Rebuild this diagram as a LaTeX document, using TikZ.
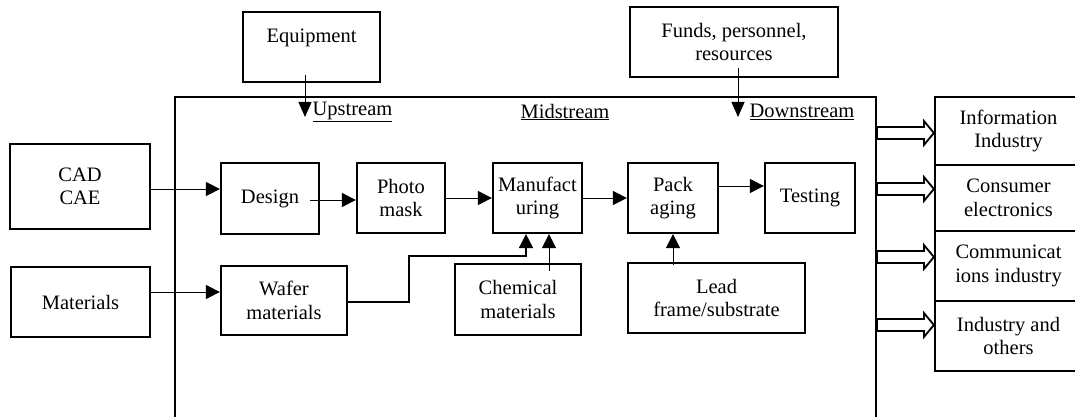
\documentclass[tikz,border=0pt]{standalone}
\usepackage{fontspec}
\setmainfont{Liberation Serif}
\usetikzlibrary{arrows.meta}
\begin{document}
\begin{tikzpicture}[x=1pt,y=-1pt,
  every node/.style={font=\fontsize{20.5}{23.5}\selectfont},
  box/.style={draw, line width=2.2pt, align=center, inner sep=0pt},
  lbl/.style={inner sep=0pt, align=center},
  arr/.style={line width=1pt, -{Triangle[length=14pt,width=14pt]}},
  hollow/.pic={\draw[line width=1.8pt, fill=white] (-57,-6)--(-10,-6)--(-10,-12)--(0,0)--(-10,12)--(-10,6)--(-57,6)--cycle;}
]
\useasboundingbox (0,0) rectangle (1075,417);

% top boxes
\node[box, minimum width=137pt, minimum height=70pt] (equip) at (311.5,47) {Equipment\\\mbox{}};
\node[box, minimum width=208pt, minimum height=70pt] (funds) at (734,42) {Funds, personnel,\\resources};

% frame
\draw[line width=2pt] (175,420) -- (175,97) -- (876,97) -- (876,420);
\node[lbl] (up) at (352.5,112) {\underline{Upstream}};
\node[lbl] (mid) at (565,112) {\underline{Midstream}};
\node[lbl] (down) at (802,112) {\underline{Downstream}};

% left boxes
\node[box, minimum width=140pt, minimum height=85pt] (cad) at (80,186.5) {CAD\\CAE};
\node[box, minimum width=139pt, minimum height=70pt] (mat) at (80.5,302) {Materials};

% process boxes
\node[box, minimum width=98pt, minimum height=71pt] (design) at (270,198.5) {Design};
\node[box, minimum width=88pt, minimum height=70pt] (photo) at (401,198) {Photo\\mask};
\node[box, minimum width=89pt, minimum height=70pt] (manuf) at (537.5,198) {Manufact\\uring};
\node[box, minimum width=90pt, minimum height=70pt] (pack) at (673,198) {Pack\\aging};
\node[box, minimum width=90pt, minimum height=70pt] (test) at (810,198) {Testing};
\node[box, minimum width=126pt, minimum height=69pt] (wafer) at (284,300.5) {Wafer\\materials};
\node[box, minimum width=126pt, minimum height=71pt] (chem) at (518,299.5) {Chemical\\materials};
\node[box, minimum width=177pt, minimum height=70pt] (lead) at (716.5,298) {Lead\\frame/substrate};

% right boxes
\node[box, minimum width=147pt, minimum height=68pt] (info) at (1008.5,131) {Information\\Industry};
\node[box, minimum width=147pt, minimum height=66pt] (cons) at (1008.5,198) {Consumer\\electronics};
\node[box, minimum width=147pt, minimum height=70pt] (comm) at (1008.5,266) {Communicat\\ions industry};
\node[box, minimum width=147pt, minimum height=70pt] (indu) at (1008.5,336) {Industry and\\others};

% hollow arrows
\pic at ([yshift=-2pt]info.west) {hollow};
\pic at ([yshift=9pt]cons.west) {hollow};
\pic at ([yshift=9pt]comm.west) {hollow};
\pic at ([yshift=11pt]indu.west) {hollow};

% vertical inputs
\coordinate (upin) at (305,117);
\coordinate (downin) at (738,117);
\draw[arr, -{Triangle[length=15pt,width=13pt]}] ([xshift=-6.5pt,yshift=-28pt]equip.center) -- (upin);
\draw[arr, -{Triangle[length=15pt,width=13pt]}] ([xshift=4pt,yshift=-26pt]funds.center) -- (downin);

% connectors
\draw[arr] ([yshift=-2.5pt]cad.east) -- ([yshift=9.5pt]design.west);
\draw[arr] ([yshift=10pt]mat.east) -- ([yshift=8.5pt]wafer.west);
\draw[arr] ([xshift=40pt,yshift=-1.5pt]design.center) -- ([yshift=-2pt]photo.west);
\draw[arr] (photo.east) -- (manuf.west);
\draw[arr] (manuf.east) -- (pack.west);
\draw[arr] ([yshift=12pt]pack.east) -- ([yshift=12pt]test.west);
\draw[arr] ([yshift=-3pt]lead.north -| pack.south) -- (pack.south);
\draw[arr] ([xshift=31pt,yshift=-8pt]chem.north) -- ([xshift=11.5pt]manuf.south);
\coordinate (bend) at (409,256);
\draw[arr, line width=1.8pt] ([yshift=-1.5pt]wafer.east) -| (bend) -| ([xshift=-11.5pt]manuf.south);
\end{tikzpicture}
\end{document}
